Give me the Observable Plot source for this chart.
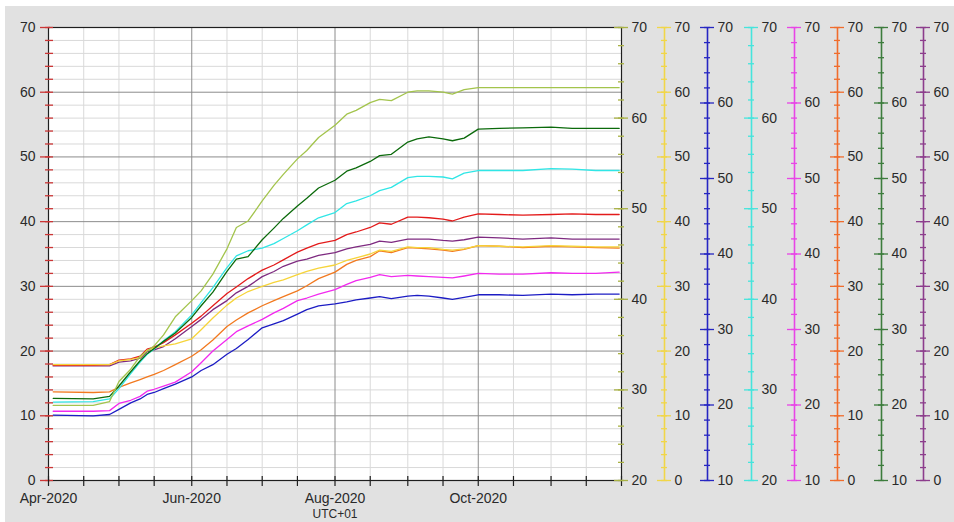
<!DOCTYPE html>
<html><head><meta charset="utf-8">
<script src="https://cdn.jsdelivr.net/npm/d3@7"></script>
<script src="https://cdn.jsdelivr.net/npm/@observablehq/plot@0.6"></script>
<style>
html,body{margin:0;padding:0;background:#fff;overflow:hidden;}
#chart{position:absolute;left:5px;top:6px;}
</style></head><body><div id="chart"></div>
<script>
// ---- data (values read against the left 0–70 grid) ----
const dates = ["2020-04-03","2020-04-20","2020-04-27","2020-05-01","2020-05-06","2020-05-10","2020-05-13","2020-05-16","2020-05-20","2020-05-25",
"2020-06-01","2020-06-05","2020-06-10","2020-06-16","2020-06-20","2020-06-25","2020-07-01","2020-07-06","2020-07-10","2020-07-16",
"2020-07-20","2020-07-25","2020-08-01","2020-08-06","2020-08-10","2020-08-16","2020-08-20","2020-08-25","2020-09-01","2020-09-05",
"2020-09-10","2020-09-16","2020-09-20","2020-09-25","2020-10-01","2020-10-10","2020-10-20","2020-11-01","2020-11-10","2020-11-20","2020-11-30"];

const oliveValues = [11.6,11.6,12.2,15.3,17.2,19.2,20.0,20.8,22.5,25.3, 27.8,29.3,31.9,35.8,39.1,40.1,43.2,45.6,47.3,49.7, 51.0,53.0,54.9,56.6,57.2,58.4,58.9,58.7,60.0,60.2, 60.2,60.0,59.7,60.4,60.7,60.7,60.7,60.7,60.7,60.7,60.7];
const greenValues = [12.7,12.6,13.0,14.6,16.8,18.5,19.6,20.4,21.5,22.8, 25.2,27.0,29.1,32.3,34.2,34.6,37.2,39.0,40.5,42.4, 43.6,45.2,46.4,47.8,48.3,49.3,50.2,50.4,52.3,52.8, 53.1,52.8,52.5,52.9,54.3,54.4,54.5,54.6,54.4,54.4,54.4];
const cyanValues = [12.1,12.2,12.6,14.2,16.5,18.3,19.5,20.3,21.6,23.0, 25.6,27.5,29.8,32.9,34.7,35.5,35.9,36.6,37.4,38.6, 39.5,40.6,41.4,42.8,43.2,44.0,44.8,45.3,46.8,47.0, 47.0,46.9,46.6,47.5,47.9,47.9,47.9,48.2,48.1,47.9,47.9];
const redValues = [17.8,17.8,17.9,18.6,18.8,19.2,20.3,20.6,21.3,22.5, 24.3,25.4,27.0,28.9,29.9,31.2,32.5,33.3,34.1,35.3, 35.9,36.6,37.1,38.0,38.4,39.1,39.8,39.6,40.7,40.7, 40.6,40.4,40.1,40.7,41.2,41.1,41.0,41.1,41.2,41.1,41.1];
const purpleValues = [17.7,17.7,17.7,18.3,18.5,18.9,19.9,20.2,20.7,21.9, 23.8,24.9,26.4,27.8,29.0,30.0,31.5,32.3,33.1,33.9, 34.2,34.8,35.2,35.8,36.1,36.5,37.0,36.8,37.3,37.3, 37.3,37.1,37.0,37.2,37.6,37.5,37.3,37.5,37.3,37.3,37.3];
const goldValues = [17.9,17.9,17.9,18.5,18.7,19.0,20.1,20.5,20.8,21.1, 21.9,23.3,25.1,27.1,28.2,29.2,30.0,30.6,31.0,31.8, 32.3,32.8,33.3,34.0,34.4,35.0,35.6,35.4,36.1,36.0, 36.0,35.7,35.6,35.8,36.3,36.2,36.1,36.3,36.2,36.1,36.1];
const orangeValues = [13.7,13.6,13.7,14.4,15.1,15.6,16.0,16.4,17.0,17.9, 19.2,20.2,21.7,23.8,24.8,25.9,27.0,27.8,28.4,29.3, 30.1,31.2,32.2,33.4,34.0,34.6,35.5,35.2,36.0,35.9, 35.8,35.6,35.4,35.7,36.3,36.2,36.0,36.2,36.1,36.0,35.9];
const magentaValues = [10.7,10.7,10.8,11.9,12.4,13.0,13.8,14.1,14.6,15.2, 16.8,18.2,20.0,21.8,23.0,23.9,24.9,25.9,26.6,27.8, 28.2,28.8,29.5,30.3,30.9,31.4,31.8,31.5,31.7,31.6, 31.5,31.4,31.3,31.6,32.0,31.9,31.9,32.1,32.0,32.0,32.2];
const blueValues = [10.1,10.0,10.2,11.0,12.0,12.6,13.3,13.6,14.2,14.9, 16.0,17.0,17.9,19.5,20.4,21.8,23.6,24.2,24.7,25.7, 26.4,27.0,27.3,27.6,27.9,28.2,28.4,28.1,28.5,28.6, 28.5,28.2,28.0,28.3,28.7,28.7,28.6,28.8,28.7,28.8,28.8];

// axes: left (red) 0–70; right axes minima (all top out at 70)
const leftMin = 0, axisMax = 70;
const rightAxisMins = [20, 0, 10, 20, 10, 0, 10, 0]; // olive, gold, blue, cyan, magenta, orange, green, purple
const monthLabels = ["Apr-2020","Jun-2020","Aug-2020","Oct-2020"];
const monthLabelDates = ["2020-04-01","2020-06-01","2020-08-01","2020-10-01"];
const timezoneLabel = "UTC+01";

// ---- styles / layout ----
const lineColors = {olive:"#a3c44c", green:"#0b6a0b", cyan:"#30e6e6", red:"#e31b1b", purple:"#7e2a80", gold:"#f6d43a", orange:"#f2791f", magenta:"#f229ef", blue:"#1c1cc4"};
const axisColors = ["#a9b244","#f1d648","#2626c2","#45e4dc","#e845e6","#f06c2c","#3c7c3c","#8c3c8c"];
const axisOffsets = [0, 43, 86, 130, 173, 216, 260, 302];
const leftAxisColor = "#cc3636";
const textColor = "#2a2a2a";

const xStart = new Date("2020-04-01"), xEnd = new Date("2020-12-01");
const series = [
  ["blue", blueValues], ["magenta", magentaValues], ["orange", orangeValues], ["purple", purpleValues],
  ["red", redValues], ["gold", goldValues], ["cyan", cyanValues], ["green", greenValues], ["olive", oliveValues]
];

// gridline/tick positions
const halfMonths = [];
for (let m = 3; m <= 11; m++) {
  halfMonths.push(new Date(Date.UTC(2020, m, 1)));
  if (m < 11) halfMonths.push(new Date(Date.UTC(2020, m, 16)));
}
const majorDates = [new Date("2020-06-01"), new Date("2020-08-01"), new Date("2020-10-01")];
const minorDates = halfMonths.filter(d => d > xStart && d < xEnd && !majorDates.some(m => +m === +d));
const yMinor = d3.range(2, 70, 2).filter(v => v % 10 !== 0);
const yMajor = d3.range(10, 70, 10);

const marks = [
  Plot.frame({fill: "white", stroke: null}),
  Plot.ruleY(yMinor, {stroke: "#d9d9d9", strokeWidth: 1}),
  Plot.ruleX(minorDates, {y1: 0, y2: 70, stroke: "#d9d9d9", strokeWidth: 1}),
  Plot.ruleY(yMajor, {stroke: "#8c8c8c", strokeWidth: 1}),
  Plot.ruleX(majorDates, {y1: 0, y2: 70, stroke: "#8c8c8c", strokeWidth: 1}),
];

for (const [name, vals] of series) {
  const data = dates.map((d, i) => ({date: new Date(d), v: vals[i]}));
  marks.push(Plot.line(data, {x: "date", y: "v", stroke: lineColors[name], strokeWidth: 1.3}));
}

marks.push(Plot.frame({stroke: "#1e1e1e", strokeWidth: 1.2}));

// left axis (red ticks, 0–70)
const leftMinor = d3.range(leftMin, axisMax + 0.001, 2);
const leftMajor = d3.range(leftMin, axisMax + 0.001, 10);
marks.push(
  Plot.ruleY(leftMinor, {y: d => d, x1: xStart, x2: xStart, insetLeft: -3, insetRight: -5, stroke: leftAxisColor, strokeWidth: 1.3}),
  Plot.ruleY(leftMajor, {y: d => d, x1: xStart, x2: xStart, insetLeft: -8, insetRight: -2, stroke: leftAxisColor, strokeWidth: 1.3}),
  Plot.text(leftMajor, {x: xStart, y: d => d, text: d => String(d), dx: -13, textAnchor: "end", fill: textColor, fontSize: 14})
);

// bottom axis ticks and labels
marks.push(
  Plot.ruleX(halfMonths, {y1: 0, y2: 0, insetTop: -4, insetBottom: -6, stroke: "#1e1e1e", strokeWidth: 1.2}),
  Plot.text(monthLabels, {x: (d, i) => new Date(monthLabelDates[i]), y: 0, text: d => d, dy: 18, fill: textColor, fontSize: 14}),
  Plot.text([timezoneLabel], {x: new Date(monthLabelDates[2]), y: 0, text: d => d, dy: 34, fill: textColor, fontSize: 12})
);

// right-hand axes, each with its own range mapped onto the shared 0–70 scale
rightAxisMins.forEach((lo, i) => {
  const c = axisColors[i], off = axisOffsets[i];
  const toShared = v => (v - lo) * (axisMax - leftMin) / (axisMax - lo) + leftMin;
  const minor = d3.range(lo, axisMax + 0.001, 2).map(v => ({v, t: toShared(v)}));
  const major = d3.range(lo, axisMax + 0.001, 10).map(v => ({v, t: toShared(v)}));
  if (off > 0) marks.push(Plot.ruleX([xEnd], {y1: 0, y2: 70, stroke: c, strokeWidth: 1.6, dx: off}));
  marks.push(
    Plot.ruleY(minor, {y: "t", x1: xEnd, x2: xEnd, insetLeft: -3, insetRight: -3, dx: off, stroke: c, strokeWidth: 1.3}),
    Plot.ruleY(major, {y: "t", x1: xEnd, x2: xEnd, insetLeft: -7, insetRight: -7, dx: off, stroke: c, strokeWidth: 1.3}),
    Plot.text(major, {x: xEnd, y: "t", text: d => String(d.v), dx: off + 10, textAnchor: "start", fill: textColor, fontSize: 14})
  );
});

const chart = Plot.plot({
  width: 949, height: 516,
  marginLeft: 43, marginRight: 333, marginTop: 21, marginBottom: 42,
  x: {type: "utc", domain: [xStart, xEnd], axis: null},
  y: {domain: [leftMin, axisMax], axis: null},
  style: {background: "#e1e1e1", fontFamily: "'Liberation Sans', Arial, sans-serif", fontSize: "14px", color: textColor},
  marks
});
document.getElementById("chart").append(chart);
</script>
</body></html>
